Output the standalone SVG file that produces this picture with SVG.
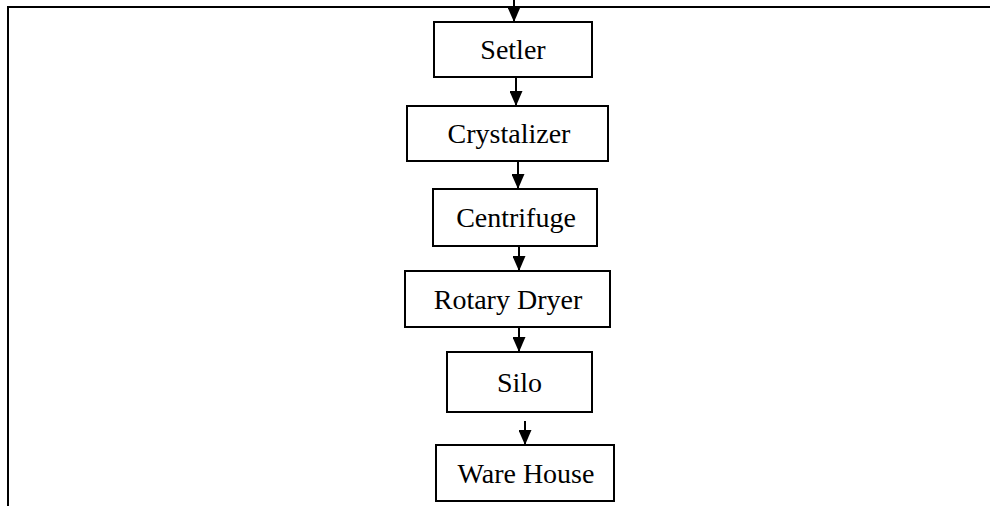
<svg xmlns="http://www.w3.org/2000/svg" width="990" height="506" viewBox="0 0 990 506">
<style>
.box{fill:#fff;stroke:#000;stroke-width:2}
.lbl{font-family:"Liberation Serif","Times New Roman",serif;font-size:28px;fill:#000;text-anchor:middle}
.con{stroke:#000;stroke-width:2;fill:none;marker-end:url(#ah)}
.frame{stroke:#000;stroke-width:2;fill:none}
</style>
<defs>
<marker id="ah" markerUnits="userSpaceOnUse" markerWidth="15" markerHeight="13" viewBox="0 0 15 13" refX="15" refY="6.5" orient="auto">
<path d="M0,0 L15,6.5 L0,13 Z" fill="#000"/>
</marker>
</defs>
<rect width="990" height="506" fill="#fff"/>
<polyline class="frame" points="8,506 8,7 990,7"/>
<g id="n-setler"><rect class="box" x="434" y="22" width="158" height="55"/><text class="lbl" x="513" y="59">Setler</text></g>
<g id="n-crystalizer"><rect class="box" x="407" y="106" width="201" height="55"/><text class="lbl" x="509" y="143">Crystalizer</text></g>
<g id="n-centrifuge"><rect class="box" x="433" y="189" width="164" height="57"/><text class="lbl" x="516" y="227">Centrifuge</text></g>
<g id="n-rotary"><rect class="box" x="405" y="271" width="205" height="56"/><text class="lbl" x="508" y="309">Rotary Dryer</text></g>
<g id="n-silo"><rect class="box" x="447" y="352" width="145" height="60"/><text class="lbl" x="519.5" y="392">Silo</text></g>
<g id="n-warehouse"><rect class="box" x="436" y="445" width="178" height="56"/><text class="lbl" x="526" y="483">Ware House</text></g>
<g id="connectors">
<line class="con" x1="514" y1="0" x2="514" y2="22"/>
<line class="con" x1="516" y1="77" x2="516" y2="106"/>
<line class="con" x1="518" y1="161" x2="518" y2="189"/>
<line class="con" x1="519" y1="246" x2="519" y2="271"/>
<line class="con" x1="519" y1="327" x2="519" y2="352"/>
<line class="con" x1="525" y1="421" x2="525" y2="445"/>
</g>
</svg>
